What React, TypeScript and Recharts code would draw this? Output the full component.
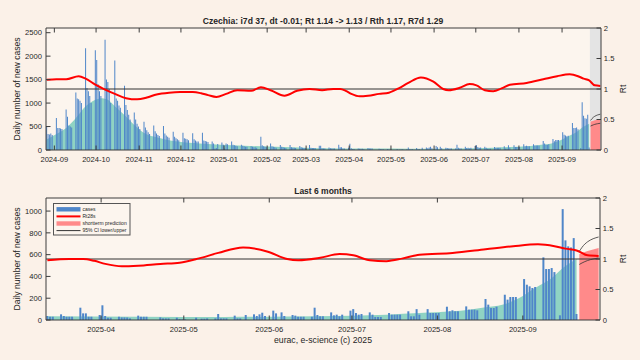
import React from 'react';
import {
  ComposedChart, Bar, Area, Line, XAxis, YAxis, CartesianGrid,
  ReferenceArea, ReferenceLine, Legend,
} from 'recharts';

const FONT = '"Liberation Sans", Arial, sans-serif';
const BG = '#fbf1e8';
const PLOT_BG = '#fcf5ee';
const AXIS = '#3c3c3c';
const TEXT = '#262626';
const BAR_COLOR = '#4f86c9';
const SMOOTH_COLOR = '#8fd3c3';
const PRED_COLOR = '#ff8a8a';
const RT_COLOR = '#ff0000';

const ZOOM_FROM = '2025-03-12';
const FORECAST_FROM = '2025-09-21';

// daily new cases, one week (Mon..Sun) per line, starting Monday 2024-08-26
const cases: (number | null)[] = [
  500, 340, 330, 350, 320, 0, 0,
  680, 470, 470, 460, 450, 0, 0,
  864, 710, 520, 500, 480, 0, 0,
  1225, 1100, 1080, 1050, 1000, 0, 0,
  2166, 1320, 1250, 1150, 1000, 0, 0,
  2125, 1920, 1400, 1250, 1150, 0, 0,
  2350, 1500, 1450, 1300, 1000, 0, 0,
  1910, 1100, 1050, 950, 900, 0, 0,
  1370, 960, 850, 750, 650, 0, 0,
  800, 650, 560, 500, 450, 0, 0,
  600, 480, 420, 380, 340, 0, 0,
  520, 400, 350, 320, 300, 0, 0,
  510, 350, 310, 280, 260, 0, 0,
  390, 280, 250, 230, 210, 0, 0,
  370, 250, 240, 230, 210, 0, 0,
  355, 230, 200, 180, 180, 0, 0,
  370, 200, 190, 180, 170, 0, 0,
  180, 140, 30, 40, 130, 0, 0,
  160, 110, 30, 140, 120, 0, 0,
  180, 110, 100, 90, 80, 0, 0,
  110, 90, 80, 70, 70, 0, 0,
  80, 70, 60, 60, 50, 0, 0,
  285, 100, 80, 70, 60, 0, 0,
  140, 80, 70, 60, 50, 0, 0,
  105, 70, 60, 50, 40, 0, 0,
  105, 60, 50, 50, 40, 0, 0,
  85, 60, 50, 40, 40, 0, 0,
  105, 50, 40, 40, 40, 0, 0,
  90, 90, 37, 30, 30, 0, 0,
  52, 37, 30, 30, 30, 0, 0,
  113, 61, 61, 30, 30, 0, 0,
  46, 135, 37, 21, 21, 0, 0,
  30, 24, 24, 24, 15, 0, 0,
  40, 30, 30, 30, 0, 0, 0,
  0, 24, 15, 15, 15, 0, 0,
  21, 8, 6, 6, 0, 0, 0,
  21, 0, 12, 12, 15, 0, 0,
  15, 55, 15, 15, 15, 0, 0,
  40, 15, 15, 0, 46, 0, 0,
  52, 37, 52, 67, 37, 0, 0,
  86, 61, 0, 70, 37, 0, 0,
  46, 40, 30, 30, 30, 0, 0,
  30, 113, 46, 34, 34, 0, 0,
  70, 43, 49, 34, 49, 0, 0,
  86, 100, 64, 49, 55, 0, 0,
  70, 49, 28, 28, 28, 0, 0,
  64, 49, 49, 49, 49, 0, 0,
  80, 34, 34, 100, 49, 0, 0,
  100, 64, 64, 64, 64, 0, 0,
  122, 80, 89, 80, 80, 0, 0,
  125, 95, 95, 95, 89, 0, 0,
  193, 141, 110, 110, 122, 0, 0,
  232, 187, 211, 211, 211, 0, 0,
  376, 324, 309, 294, 303, 0, 0,
  575, 468, 468, 477, 440, 0, 43,
  1018, 731, 676, 666, 752, 55, null,
  null, null, null, null, null, null, null,
];

// smoothed trend (teal area)
const smoothDates = [
  '2024-08-26', '2024-09-02', '2024-09-09', '2024-09-16', '2024-09-23', '2024-09-30',
  '2024-10-05', '2024-10-09', '2024-10-14', '2024-10-22', '2024-10-29', '2024-11-05',
  '2024-11-13', '2024-11-20', '2024-11-28', '2024-12-14', '2025-01-06', '2025-02-01',
  '2025-02-24', '2025-03-12', '2025-04-15', '2025-05-15', '2025-06-18', '2025-07-13',
  '2025-07-25', '2025-08-06', '2025-08-12', '2025-08-18', '2025-08-24', '2025-08-30',
  '2025-09-05', '2025-09-11', '2025-09-15', '2025-09-20',
];
const smoothValues = [
  225, 340, 470, 680, 930, 1070,
  1105, 1070, 930, 715, 505, 345,
  270, 220, 180, 140, 100, 75,
  55, 35, 30, 28, 34, 49,
  64, 80, 95, 116, 140, 200,
  294, 385, 477, 560,
];

// Rt28s (right axis)
const rtDates = [
  '2024-08-26', '2024-09-02', '2024-09-09', '2024-09-18', '2024-09-23', '2024-09-30',
  '2024-10-07', '2024-10-14', '2024-10-22', '2024-10-30', '2024-11-06', '2024-11-13',
  '2024-11-22', '2024-11-30', '2024-12-09', '2024-12-15', '2024-12-20', '2024-12-26',
  '2025-01-02', '2025-01-10', '2025-01-20', '2025-01-27', '2025-02-03', '2025-02-13',
  '2025-02-22', '2025-03-03', '2025-03-12', '2025-03-20', '2025-03-25', '2025-03-29',
  '2025-04-02', '2025-04-08', '2025-04-14', '2025-04-22', '2025-04-29', '2025-05-06',
  '2025-05-13', '2025-05-22', '2025-05-31', '2025-06-07', '2025-06-11', '2025-06-19',
  '2025-06-26', '2025-07-01', '2025-07-07', '2025-07-13', '2025-07-19', '2025-07-25',
  '2025-08-06', '2025-08-18', '2025-08-28', '2025-09-06', '2025-09-12', '2025-09-16',
  '2025-09-20', '2025-09-24', '2025-09-28',
];
const rtValues = [
  1.15, 1.16, 1.16, 1.21, 1.17, 1.07,
  0.99, 0.92, 0.85, 0.83, 0.86, 0.91,
  0.94, 0.95, 0.95, 0.93, 0.9, 0.87,
  0.92, 0.98, 0.97, 1.03, 0.98, 0.89,
  0.97, 1.0, 0.98, 1.0, 1.0, 0.97,
  0.92, 0.88, 0.89, 0.92, 0.94, 1.01,
  1.1, 1.19, 1.12, 1.0, 0.98, 1.02,
  1.08, 1.06, 0.98, 0.965, 1.01, 1.07,
  1.1, 1.16, 1.21, 1.24, 1.21, 1.17,
  1.14, 1.06, 1.05,
];

// short-term prediction with its 95% CI
const predDates = [
  '2025-09-21', '2025-09-22', '2025-09-23', '2025-09-24',
  '2025-09-25', '2025-09-26', '2025-09-27', '2025-09-28',
];
const predValues = [605, 615, 625, 633, 641, 648, 655, 660];
const ciUpper = [630, 668, 697, 718, 734, 746, 755, 762];
const ciLower = [510, 524, 536, 546, 554, 560, 565, 570];

const topMonths = [
  '2024-09', '2024-10', '2024-11', '2024-12', '2025-01', '2025-02', '2025-03',
  '2025-04', '2025-05', '2025-06', '2025-07', '2025-08', '2025-09',
];
const bottomMonths = ['2025-04', '2025-05', '2025-06', '2025-07', '2025-08', '2025-09'];

const topCaseTicks = [0, 500, 1000, 1500, 2000, 2500];
const bottomCaseTicks = [0, 200, 400, 600, 800, 1000];
const rtTicks = [0, 0.5, 1, 1.5, 2];

const byDate = (keys: string[], vals: number[]) => new Map(keys.map((k, i) => [k, vals[i]]));
const smoothMap = byDate(smoothDates, smoothValues);
const rtMap = byDate(rtDates, rtValues);
const predMap = byDate(predDates, predValues);
const hiMap = byDate(predDates, ciUpper);
const loMap = byDate(predDates, ciLower);

const dates = cases.map((_, i) =>
  new Date(Date.UTC(2024, 7, 26) + i * 86400000).toISOString().slice(0, 10));

const rows = dates.map((date, i) => ({
  date,
  cases: cases[i],
  smooth: smoothMap.get(date) ?? null,
  rt: rtMap.get(date) ?? null,
  pred: predMap.get(date) ?? null,
  ciHigh: hiMap.get(date) ?? null,
  ciLow: loMap.get(date) ?? null,
}));
const recentRows = rows.slice(dates.indexOf(ZOOM_FROM));

const W = 640;
const H = 180;
const PLOT_LEFT = 46;

const legendItems = [
  { label: 'cases', kind: 'patch', color: BAR_COLOR },
  { label: 'Rt28s', kind: 'line', color: RT_COLOR, width: 2 },
  { label: 'shortterm prediction', kind: 'patch', color: PRED_COLOR },
  { label: '95% CI lower/upper', kind: 'line', color: '#333', width: 1 },
];

function LegendBox() {
  return (
    <svg width={78} height={33} style={{ display: 'block' }}>
      <rect x={0.5} y={0.5} width={76.5} height={31.5} fill={PLOT_BG} stroke="#555" />
      {legendItems.map((it, i) => {
        const cy = 6.3 + i * 7.1;
        return (
          <g key={it.label}>
            {it.kind === 'patch'
              ? <rect x={3.5} y={cy - 2.2} width={24} height={4.4} fill={it.color} />
              : <line x1={3.5} x2={27.5} y1={cy} y2={cy} stroke={it.color} strokeWidth={it.width} />}
            <text x={29.5} y={cy + 1.8} fontSize={5} fontFamily={FONT} fill={TEXT}>{it.label}</text>
          </g>
        );
      })}
    </svg>
  );
}

interface PanelProps {
  data: typeof rows;
  casesMax: number;
  caseTicks: number[];
  months: string[];
  plotTop: number;
  plotBottom: number;
  plotRight: number;
  showLegend?: boolean;
}

function Panel({ data, casesMax, caseTicks, months, plotTop, plotBottom, plotRight, showLegend }: PanelProps) {
  const band = (plotRight - PLOT_LEFT) / data.length;
  const lastDate = data[data.length - 1].date;

  const monthTick = (p: any) => {
    const x = p.x - band / 2;
    return (
      <g>
        <line x1={x} x2={x} y1={plotBottom} y2={plotBottom - 4.5} stroke={AXIS} />
        <line x1={x} x2={x} y1={plotTop} y2={plotTop + 4.5} stroke={AXIS} />
        <text x={x} y={plotBottom + 11.8} textAnchor="middle" fontSize={7.6} fontFamily={FONT} fill={TEXT}>
          {String(p.payload.value).slice(0, 7)}
        </text>
      </g>
    );
  };
  const leftTick = (p: any) => (
    <g>
      <line x1={PLOT_LEFT} x2={PLOT_LEFT + 4.5} y1={p.y} y2={p.y} stroke={AXIS} />
      <text x={PLOT_LEFT - 4} y={p.y + 2.7} textAnchor="end" fontSize={7.6} fontFamily={FONT} fill={TEXT}>
        {p.payload.value}
      </text>
    </g>
  );
  const rightTick = (p: any) => (
    <g>
      <line x1={plotRight - 4.5} x2={plotRight} y1={p.y} y2={p.y} stroke={AXIS} />
      <text x={plotRight + 2.8} y={p.y + 2.7} textAnchor="start" fontSize={7.6} fontFamily={FONT} fill={TEXT}>
        {p.payload.value}
      </text>
    </g>
  );

  return (
    <ComposedChart
      width={W}
      height={H}
      data={data}
      margin={{ top: plotTop, right: 0, bottom: 0, left: 0 }}
      barCategoryGap="10%"
    >
      <CartesianGrid yAxisId="cases" horizontal={false} vertical={false} fill={PLOT_BG} fillOpacity={1} />
      <XAxis
        dataKey="date"
        height={H - plotBottom}
        ticks={months.map((m) => `${m}-01`)}
        interval={0}
        tick={monthTick}
        tickLine={false}
        axisLine={{ stroke: AXIS }}
      />
      <YAxis
        yAxisId="cases"
        width={PLOT_LEFT}
        domain={[0, casesMax]}
        allowDataOverflow
        ticks={caseTicks}
        interval={0}
        tick={leftTick}
        tickLine={false}
        axisLine={{ stroke: AXIS }}
      />
      <YAxis
        yAxisId="rt"
        orientation="right"
        width={W - plotRight}
        domain={[0, 2]}
        allowDataOverflow
        ticks={rtTicks}
        interval={0}
        tick={rightTick}
        tickLine={false}
        axisLine={{ stroke: AXIS }}
      />
      <ReferenceArea
        yAxisId="cases"
        x1={FORECAST_FROM}
        x2={lastDate}
        fill="#e4e4e4"
        fillOpacity={1}
        stroke="none"
        zIndex={-50}
      />
      <Area
        yAxisId="cases"
        dataKey="smooth"
        type="monotone"
        connectNulls
        fill={SMOOTH_COLOR}
        fillOpacity={1}
        stroke="none"
        isAnimationActive={false}
      />
      <Area
        yAxisId="cases"
        dataKey="pred"
        type="linear"
        fill={PRED_COLOR}
        fillOpacity={1}
        stroke="none"
        isAnimationActive={false}
      />
      <Bar yAxisId="cases" dataKey="cases" fill={BAR_COLOR} isAnimationActive={false} />
      <Line yAxisId="cases" dataKey="ciHigh" type="monotone" stroke="#333" strokeWidth={0.8} dot={false} isAnimationActive={false} />
      <Line yAxisId="cases" dataKey="ciLow" type="monotone" stroke="#333" strokeWidth={0.8} dot={false} isAnimationActive={false} />
      <ReferenceLine yAxisId="rt" y={1} stroke="#333" strokeWidth={1} />
      <ReferenceLine yAxisId="cases" y={casesMax} stroke={AXIS} ifOverflow="visible" />
      <Line
        yAxisId="rt"
        dataKey="rt"
        type="monotone"
        connectNulls
        stroke={RT_COLOR}
        strokeWidth={2}
        dot={false}
        isAnimationActive={false}
      />
      {showLegend && (
        <Legend
          layout="horizontal"
          verticalAlign="middle"
          wrapperStyle={{ left: 52.5, top: 22.5, width: 'auto', height: 'auto' }}
          content={() => <LegendBox />}
        />
      )}
    </ComposedChart>
  );
}

export default function App() {
  const txt = { fontFamily: FONT, fill: TEXT };
  return (
    <div style={{ position: 'absolute', left: 0, top: 0, width: W, height: 360, background: BG, overflow: 'hidden' }}>
      <div style={{ position: 'absolute', left: 0, top: 0 }}>
        <Panel
          data={rows}
          casesMax={2600}
          caseTicks={topCaseTicks}
          months={topMonths}
          plotTop={28}
          plotBottom={150}
          plotRight={601}
        />
      </div>
      <div style={{ position: 'absolute', left: 0, top: 180 }}>
        <Panel
          data={recentRows}
          casesMax={1120}
          caseTicks={bottomCaseTicks}
          months={bottomMonths}
          plotTop={18}
          plotBottom={140}
          plotRight={600}
          showLegend
        />
      </div>
      <svg width={W} height={360} style={{ position: 'absolute', left: 0, top: 0, pointerEvents: 'none' }}>
        <text x={323} y={24} textAnchor="middle" fontSize={8.6} fontWeight="bold" {...txt}>
          Czechia: i7d 37, dt -0.01; Rt 1.14 -&gt; 1.13 / Rth 1.17, R7d 1.29
        </text>
        <text x={323} y={193.5} textAnchor="middle" fontSize={8.5} fontWeight="bold" {...txt}>
          Last 6 months
        </text>
        <text x={19.5} y={89} textAnchor="middle" fontSize={8.6} transform="rotate(-90 19.5 89)" {...txt}>
          Daily number of new cases
        </text>
        <text x={19.5} y={259} textAnchor="middle" fontSize={8.6} transform="rotate(-90 19.5 259)" {...txt}>
          Daily number of new cases
        </text>
        <text x={626} y={89} textAnchor="middle" fontSize={8.6} transform="rotate(-90 626 89)" {...txt}>
          Rt
        </text>
        <text x={626} y={259} textAnchor="middle" fontSize={8.6} transform="rotate(-90 626 259)" {...txt}>
          Rt
        </text>
        <text x={323} y={342.5} textAnchor="middle" fontSize={8.7} {...txt}>
          eurac, e-science (c) 2025
        </text>
      </svg>
    </div>
  );
}
